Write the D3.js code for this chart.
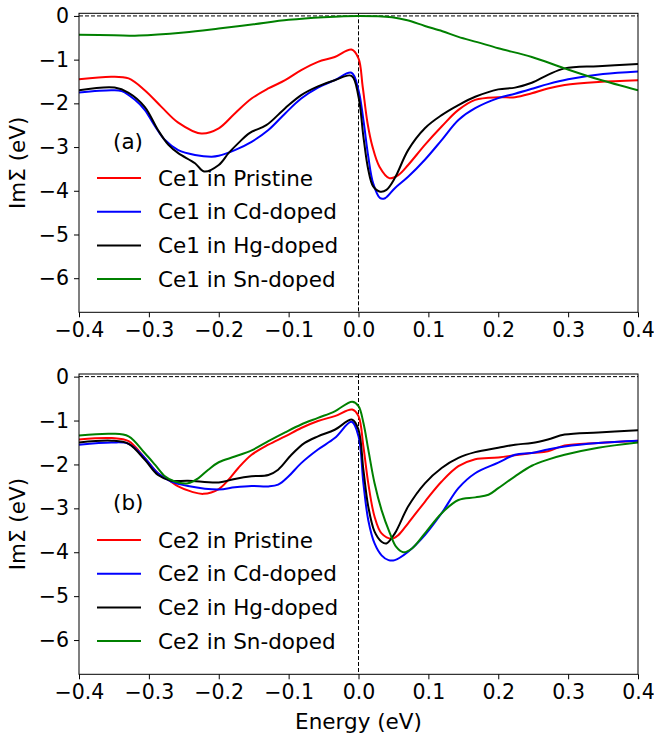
<!DOCTYPE html>
<html>
<head>
<meta charset="utf-8">
<script src="https://cdn.jsdelivr.net/npm/d3@7"></script>
<style>
  body { margin: 0; background: #fff; }
  text { font-family: "DejaVu Sans", sans-serif; }
</style>
</head>
<body>
<svg width="654" height="738"></svg>
<script>
// energy (eV) vs Im Sigma (eV)
const ce1Pristine = [[-0.4,-1.45],[-0.353,-1.39],[-0.329,-1.43],[-0.306,-1.70],[-0.282,-2.08],[-0.258,-2.44],[-0.225,-2.69],[-0.2,-2.57],[-0.177,-2.23],[-0.153,-1.89],[-0.129,-1.66],[-0.105,-1.47],[-0.082,-1.24],[-0.058,-1.05],[-0.034,-0.94],[-0.010,-0.77],[0.0,-0.97],[0.006,-1.62],[0.013,-2.46],[0.020,-2.99],[0.030,-3.45],[0.044,-3.71],[0.057,-3.64],[0.071,-3.41],[0.095,-2.95],[0.119,-2.53],[0.143,-2.15],[0.167,-1.92],[0.2,-1.86],[0.224,-1.86],[0.248,-1.77],[0.271,-1.66],[0.295,-1.58],[0.343,-1.51],[0.4,-1.47]];
const ce1Cd = [[-0.4,-1.75],[-0.353,-1.70],[-0.339,-1.72],[-0.32,-1.92],[-0.306,-2.15],[-0.291,-2.53],[-0.277,-2.84],[-0.258,-3.07],[-0.234,-3.18],[-0.21,-3.22],[-0.2,-3.20],[-0.177,-3.07],[-0.153,-2.88],[-0.129,-2.61],[-0.105,-2.23],[-0.082,-1.89],[-0.058,-1.64],[-0.034,-1.47],[-0.010,-1.30],[0.0,-1.70],[0.007,-2.38],[0.014,-3.22],[0.021,-3.83],[0.031,-4.17],[0.038,-4.17],[0.052,-3.94],[0.071,-3.68],[0.095,-3.29],[0.119,-2.84],[0.143,-2.38],[0.167,-2.11],[0.2,-1.88],[0.224,-1.78],[0.25,-1.66],[0.271,-1.56],[0.3,-1.45],[0.35,-1.33],[0.4,-1.27]];
const ce1Hg = [[-0.4,-1.70],[-0.349,-1.64],[-0.329,-1.76],[-0.306,-2.08],[-0.287,-2.61],[-0.272,-2.95],[-0.258,-3.14],[-0.234,-3.37],[-0.221,-3.56],[-0.2,-3.41],[-0.186,-3.14],[-0.172,-2.91],[-0.156,-2.68],[-0.132,-2.50],[-0.105,-2.11],[-0.082,-1.81],[-0.058,-1.61],[-0.034,-1.47],[-0.010,-1.37],[0.0,-1.85],[0.007,-2.76],[0.014,-3.52],[0.021,-3.90],[0.031,-4.02],[0.040,-3.98],[0.052,-3.71],[0.071,-3.07],[0.095,-2.57],[0.119,-2.27],[0.143,-2.04],[0.167,-1.85],[0.2,-1.68],[0.224,-1.64],[0.248,-1.53],[0.271,-1.35],[0.295,-1.20],[0.343,-1.15],[0.4,-1.10]];
const ce1Sn = [[-0.4,-0.43],[-0.35,-0.44],[-0.314,-0.45],[-0.25,-0.38],[-0.2,-0.29],[-0.15,-0.19],[-0.1,-0.09],[-0.05,-0.03],[0.0,0.0],[0.048,-0.03],[0.07,-0.1],[0.095,-0.23],[0.12,-0.35],[0.143,-0.48],[0.17,-0.6],[0.2,-0.74],[0.248,-0.94],[0.295,-1.2],[0.343,-1.45],[0.4,-1.70]];

const ce2Pristine = [[-0.4,-1.43],[-0.353,-1.40],[-0.329,-1.47],[-0.306,-1.85],[-0.287,-2.20],[-0.272,-2.35],[-0.258,-2.50],[-0.239,-2.62],[-0.222,-2.67],[-0.2,-2.56],[-0.186,-2.35],[-0.172,-2.08],[-0.153,-1.78],[-0.129,-1.55],[-0.105,-1.36],[-0.082,-1.17],[-0.058,-1.01],[-0.034,-0.90],[-0.009,-0.75],[0.0,-0.90],[0.007,-1.59],[0.014,-2.43],[0.023,-3.19],[0.033,-3.57],[0.048,-3.69],[0.057,-3.61],[0.071,-3.34],[0.095,-2.85],[0.119,-2.39],[0.143,-2.04],[0.167,-1.88],[0.2,-1.84],[0.248,-1.74],[0.271,-1.70],[0.295,-1.57],[0.343,-1.51],[0.4,-1.46]];
const ce2Cd = [[-0.4,-1.55],[-0.353,-1.50],[-0.329,-1.53],[-0.306,-1.85],[-0.287,-2.20],[-0.268,-2.39],[-0.244,-2.49],[-0.2,-2.57],[-0.177,-2.52],[-0.153,-2.49],[-0.129,-2.50],[-0.115,-2.46],[-0.1,-2.27],[-0.082,-1.97],[-0.058,-1.66],[-0.034,-1.40],[-0.010,-1.03],[0.0,-1.36],[0.007,-2.43],[0.014,-3.27],[0.023,-3.80],[0.033,-4.07],[0.043,-4.18],[0.052,-4.18],[0.071,-3.99],[0.095,-3.61],[0.119,-3.11],[0.143,-2.54],[0.167,-2.20],[0.2,-1.96],[0.224,-1.78],[0.248,-1.74],[0.271,-1.66],[0.295,-1.59],[0.343,-1.51],[0.4,-1.46]];
const ce2Hg = [[-0.4,-1.50],[-0.353,-1.46],[-0.329,-1.53],[-0.306,-1.89],[-0.287,-2.24],[-0.268,-2.37],[-0.244,-2.37],[-0.2,-2.41],[-0.177,-2.33],[-0.153,-2.27],[-0.129,-2.24],[-0.115,-2.12],[-0.096,-1.78],[-0.077,-1.51],[-0.058,-1.36],[-0.034,-1.21],[-0.009,-0.98],[0.0,-1.21],[0.007,-2.12],[0.014,-2.96],[0.023,-3.53],[0.033,-3.76],[0.040,-3.80],[0.052,-3.57],[0.071,-2.96],[0.095,-2.43],[0.119,-2.08],[0.143,-1.85],[0.167,-1.72],[0.2,-1.62],[0.224,-1.55],[0.248,-1.51],[0.271,-1.43],[0.295,-1.32],[0.343,-1.27],[0.4,-1.22]];
const ce2Sn = [[-0.4,-1.34],[-0.353,-1.30],[-0.329,-1.36],[-0.306,-1.74],[-0.291,-2.01],[-0.277,-2.27],[-0.263,-2.39],[-0.244,-2.43],[-0.229,-2.31],[-0.215,-2.12],[-0.2,-1.95],[-0.177,-1.82],[-0.153,-1.68],[-0.129,-1.47],[-0.105,-1.27],[-0.082,-1.09],[-0.058,-0.94],[-0.034,-0.79],[-0.009,-0.57],[0.0,-0.67],[0.007,-1.05],[0.014,-1.66],[0.023,-2.43],[0.033,-3.04],[0.045,-3.57],[0.054,-3.88],[0.064,-4.00],[0.076,-3.92],[0.095,-3.57],[0.119,-3.11],[0.143,-2.81],[0.167,-2.75],[0.186,-2.69],[0.2,-2.54],[0.224,-2.27],[0.248,-2.03],[0.271,-1.89],[0.295,-1.78],[0.343,-1.62],[0.4,-1.50]];

const xTicks = [-0.4, -0.3, -0.2, -0.1, 0.0, 0.1, 0.2, 0.3, 0.4];
const yTicks = [0, -1, -2, -3, -4, -5, -6];
const colors = ["#ff0000", "#0000ff", "#000000", "#008000"];
const dopants = ["Pristine", "Cd-doped", "Hg-doped", "Sn-doped"];

const panels = [
  { tag: "(a)", site: "Ce1", series: [ce1Pristine, ce1Cd, ce1Hg, ce1Sn], top: 13.3, bottom: 312.3, tagY: 141, legY: 178 },
  { tag: "(b)", site: "Ce2", series: [ce2Pristine, ce2Cd, ce2Hg, ce2Sn], top: 374, bottom: 674.3, tagY: 502, legY: 540 }
];

const svg = d3.select("svg");
const left = 79, right = 638;
const fontSize = 21.5;
const tickFont = 20.5;

const x = d3.scaleLinear().domain([-0.4, 0.4]).range([left, right]);

panels.forEach((p, i) => {
  const y = d3.scaleLinear().domain([-6.78, 0.06]).range([p.bottom, p.top]);
  const g = svg.append("g");

  g.append("clipPath").attr("id", "clip" + i)
    .append("rect").attr("x", left).attr("y", p.top).attr("width", right - left).attr("height", p.bottom - p.top);

  // reference lines
  g.append("line")
    .attr("x1", left).attr("x2", right).attr("y1", y(0)).attr("y2", y(0))
    .attr("stroke", "#000").attr("stroke-width", 1).attr("stroke-dasharray", "4,2");
  g.append("line")
    .attr("x1", x(0)).attr("x2", x(0)).attr("y1", p.top).attr("y2", p.bottom)
    .attr("stroke", "#000").attr("stroke-width", 1).attr("stroke-dasharray", "4,2");

  const line = d3.line()
    .x(d => x(d[0]))
    .y(d => y(d[1]))
    .curve(d3.curveCatmullRom.alpha(0.5));

  g.append("g").attr("clip-path", `url(#clip${i})`)
    .selectAll("path")
    .data(p.series)
    .enter()
    .append("path")
    .attr("d", line)
    .attr("fill", "none")
    .attr("stroke", (d, k) => colors[k])
    .attr("stroke-width", 2);

  // axes
  const xAxis = d3.axisBottom(x).tickValues(xTicks).tickFormat(d3.format(".1f")).tickSizeOuter(0).tickSize(5).tickPadding(5);
  const yAxis = d3.axisLeft(y).tickValues(yTicks).tickFormat(d3.format("d")).tickSizeOuter(0).tickSize(5).tickPadding(5);

  const gx = g.append("g").attr("transform", `translate(0,${p.bottom})`).call(xAxis);
  const gy = g.append("g").attr("transform", `translate(${left},0)`).call(yAxis);
  [gx, gy].forEach(a => {
    a.select(".domain").remove();
    a.selectAll("text").attr("font-size", tickFont).attr("fill", "#000").style("font-family", "DejaVu Sans");
    a.selectAll("line").attr("stroke", "#000");
  });

  // frame
  g.append("rect")
    .attr("x", left).attr("y", p.top).attr("width", right - left).attr("height", p.bottom - p.top)
    .attr("fill", "none").attr("stroke", "#000").attr("stroke-width", 1);

  // y label
  g.append("text")
    .attr("transform", `translate(25,${(p.top + p.bottom) / 2}) rotate(-90)`)
    .attr("text-anchor", "middle")
    .attr("font-size", fontSize)
    .text("ImΣ (eV)");

  // panel tag
  g.append("text")
    .attr("x", 113).attr("y", p.tagY)
    .attr("dy", "0.35em")
    .attr("font-size", fontSize)
    .text(p.tag);

  // legend
  dopants.forEach((name, k) => {
    const ly = p.legY + k * 33.7;
    g.append("line")
      .attr("x1", 97).attr("x2", 141).attr("y1", ly).attr("y2", ly)
      .attr("stroke", colors[k]).attr("stroke-width", 2);
    g.append("text")
      .attr("x", 158).attr("y", ly)
      .attr("dy", "0.35em")
      .attr("font-size", fontSize)
      .text(`${p.site} in ${name}`);
  });
});

// x label
svg.append("text")
  .attr("x", (left + right) / 2)
  .attr("y", 729)
  .attr("text-anchor", "middle")
  .attr("font-size", fontSize)
  .text("Energy (eV)");
</script>
</body>
</html>
